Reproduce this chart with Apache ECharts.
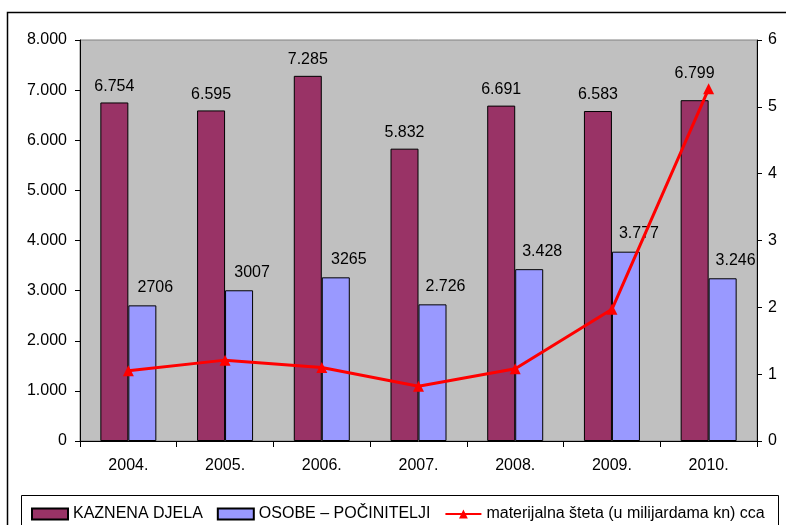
<!DOCTYPE html>
<html>
<head>
<meta charset="utf-8">
<script src="https://cdn.jsdelivr.net/npm/echarts@6/dist/echarts.min.js"></script>
<style>
html, body { margin: 0; padding: 0; background: #fff; }
#chart { width: 786px; height: 525px; }
</style>
</head>
<body>
<div id="chart"></div>
<script>
var years = ['2004.', '2005.', '2006.', '2007.', '2008.', '2009.', '2010.'];
var djela = [6754, 6595, 7285, 5832, 6691, 6583, 6799];
var osobe = [2706, 3007, 3265, 2726, 3428, 3777, 3246];
var osobeLabels = ['2706', '3007', '3265', '2.726', '3.428', '3.777', '3.246'];
var steta = [1.05, 1.21, 1.10, 0.82, 1.08, 1.97, 5.27];

var chart = echarts.init(document.getElementById('chart'));

function dots(v) {
	return String(v).replace(/\B(?=(\d{3})+(?!\d))/g, '.');
}

var font = 'Liberation Sans, Arial, sans-serif';

var option = {
	animation: false,
	backgroundColor: '#fff',
	textStyle: { fontFamily: font },
	grid: {
		left: 80, right: 29, top: 40, bottom: 84,
		show: true,
		backgroundColor: '#c0c0c0',
		borderColor: '#808080',
		borderWidth: 1
	},
	graphic: [
		{
			type: 'rect',
			shape: { x: 7.5, y: 12.5, width: 800, height: 600 },
			style: { fill: 'none', stroke: '#000', lineWidth: 1.5 },
			z: -10
		},
		{
			type: 'rect',
			shape: { x: 21.5, y: 495.5, width: 757, height: 40 },
			style: { fill: '#fff', stroke: '#000', lineWidth: 1 },
			z: 0
		}
	],
	legend: {
		left: 26, top: 501,
		itemWidth: 36, itemHeight: 11,
		itemGap: 14,
		textStyle: { fontSize: 16, color: '#000', fontFamily: font },
		data: [
			{ name: 'KAZNENA DJELA', icon: 'rect' },
			{ name: 'OSOBE – POČINITELJI', icon: 'rect' },
			{ name: 'materijalna šteta (u milijardama kn) cca' }
		],
		z: 5
	},
	xAxis: {
		type: 'category',
		data: years,
		axisLine: { lineStyle: { color: '#000', width: 1 } },
		axisTick: { show: true, length: 6, lineStyle: { color: '#000' } },
		axisLabel: { fontSize: 16, color: '#000', margin: 17, fontFamily: font },
		splitLine: { show: false }
	},
	yAxis: [
		{
			type: 'value',
			min: 0, max: 8000, interval: 1000,
			axisLine: { show: true, lineStyle: { color: '#000' } },
			axisTick: { show: true, length: 5, lineStyle: { color: '#000' } },
			axisLabel: {
				fontSize: 16, color: '#000', margin: 13, fontFamily: font,
				formatter: function (v) { return dots(v); }
			},
			splitLine: { show: false }
		},
		{
			type: 'value',
			min: 0, max: 6, interval: 1,
			position: 'right',
			axisLine: { show: true, lineStyle: { color: '#000' } },
			axisTick: { show: true, length: 5, lineStyle: { color: '#000' } },
			axisLabel: { fontSize: 16, color: '#000', margin: 11, fontFamily: font },
			splitLine: { show: false }
		}
	],
	series: [
		{
			name: 'KAZNENA DJELA',
			type: 'bar',
			data: djela,
			barWidth: 28,
			barGap: '0%',
			itemStyle: { color: '#993366', borderColor: '#000', borderWidth: 1 },
			label: {
				show: true, position: 'top', distance: 8,
				fontSize: 16, color: '#000', fontFamily: font,
				formatter: function (p) { return dots(p.value); }
			},
			// last label sits higher so the line marker stays clear of it
			labelLayout: function (params) {
				if (params.dataIndex === djela.length - 1) {
					return { dy: -11 };
				}
			}
		},
		{
			name: 'OSOBE – POČINITELJI',
			type: 'bar',
			data: osobe,
			barWidth: 28,
			itemStyle: { color: '#9999ff', borderColor: '#000', borderWidth: 1 },
			label: {
				show: true, position: 'top', distance: 10, offset: [13, 0],
				fontSize: 16, color: '#000', fontFamily: font,
				formatter: function (p) { return osobeLabels[p.dataIndex]; }
			}
		},
		{
			name: 'materijalna šteta (u milijardama kn) cca',
			type: 'line',
			yAxisIndex: 1,
			data: steta,
			symbol: 'triangle',
			symbolSize: 11,
			lineStyle: { color: '#ff0000', width: 3 },
			itemStyle: { color: '#ff0000' },
			z: 10
		}
	]
};

chart.setOption(option);
</script>
</body>
</html>
